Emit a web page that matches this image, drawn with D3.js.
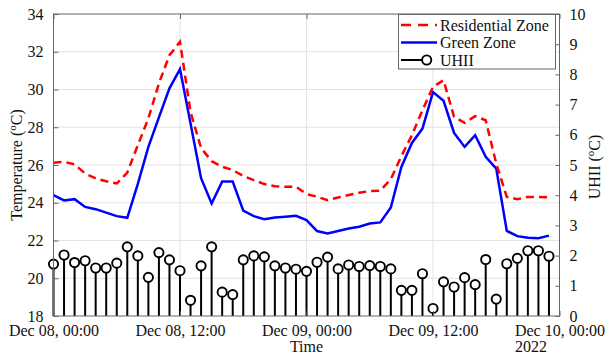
<!DOCTYPE html>
<html>
<head>
<meta charset="utf-8">
<script src="https://cdn.jsdelivr.net/npm/d3@7"></script>
<style>
  body { margin: 0; background: #fff; }
  text { font-family: "Liberation Serif", "Times New Roman", serif; fill: #111; }
</style>
</head>
<body>
<div id="chart"></div>
<script>
/* hourly readings, Dec 08 00:00 to Dec 09 23:00 */
var startTime = new Date(2022, 11, 8, 0, 0);
var hours = d3.range(48);

var residential = [26.12, 26.17, 26.03, 25.55, 25.29, 25.14, 25.02, 25.6, 27.05, 28.47, 30.32, 31.82,
                   32.53, 28.8, 26.9, 26.2, 25.91, 25.73, 25.42, 25.20, 24.99, 24.88, 24.85, 24.85,
                   24.46, 24.32, 24.14, 24.28, 24.41, 24.53, 24.62, 24.64, 25.25, 26.47, 27.58, 28.9,
                   30.14, 30.49, 28.55, 28.23, 28.59, 28.37, 26.08, 24.31, 24.19, 24.31, 24.31, 24.28];

var green = [24.40, 24.12, 24.19, 23.78, 23.66, 23.48, 23.29, 23.20, 25.0, 26.96, 28.52, 30.06,
             31.08, 28.2, 25.3, 23.96, 25.12, 25.12, 23.58, 23.29, 23.13, 23.22, 23.26, 23.31,
             23.08, 22.50, 22.37, 22.50, 22.64, 22.73, 22.90, 22.96, 23.75, 25.90, 27.17, 27.93,
             29.86, 29.40, 27.70, 26.96, 27.58, 26.43, 25.81, 22.51, 22.23, 22.14, 22.12, 22.26];

var uhii = [1.72, 2.02, 1.77, 1.83, 1.59, 1.59, 1.75, 2.29, 1.99, 1.28, 2.10, 1.86,
            1.50, 0.52, 1.66, 2.29, 0.79, 0.71, 1.86, 1.99, 1.96, 1.66, 1.59, 1.55,
            1.48, 1.78, 1.95, 1.56, 1.69, 1.64, 1.67, 1.64, 1.56, 0.85, 0.85, 1.40,
            0.25, 1.13, 0.96, 1.27, 1.04, 1.87, 0.56, 1.73, 1.91, 2.16, 2.16, 1.98];

var tempTicks = [18, 20, 22, 24, 26, 28, 30, 32, 34];
var uhiiTicks = [0, 1, 2, 3, 4, 5, 6, 7, 8, 9, 10];
var timeTicks = [new Date(2022, 11, 8, 0), new Date(2022, 11, 8, 12), new Date(2022, 11, 9, 0),
                 new Date(2022, 11, 9, 12), new Date(2022, 11, 10, 0)];
var seriesNames = ["Residential Zone", "Green Zone", "UHII"];

var data = hours.map(function(h, i) {
	return { t: d3.timeHour.offset(startTime, h), res: residential[i], green: green[i], uhii: uhii[i] };
});

var width = 608,
    height = 356,
    margin = {top: 14, right: 48.5, bottom: 40, left: 53.5},
    innerW = width - margin.left - margin.right,
    innerH = height - margin.top - margin.bottom;

var svg = d3.select("#chart").append("svg")
            .attr("width", width)
            .attr("height", height);

var g = svg.append("g")
           .attr("transform", "translate(" + margin.left + "," + margin.top + ")");

var x = d3.scaleTime().domain([timeTicks[0], timeTicks[4]]).range([0, innerW]),
    yT = d3.scaleLinear().domain([18, 34]).range([innerH, 0]),
    yU = d3.scaleLinear().domain([0, 10]).range([innerH, 0]);

/* grid */
g.append("g").selectAll("line")
    .data(tempTicks.slice(1, -1))
    .enter().append("line")
        .attr("x1", 0).attr("x2", innerW)
        .attr("y1", function(d) { return yT(d); })
        .attr("y2", function(d) { return yT(d); })
        .attr("stroke", "#e3e3e3").attr("stroke-width", 1);

g.append("g").selectAll("line")
    .data(timeTicks.slice(1, -1))
    .enter().append("line")
        .attr("y1", 0).attr("y2", innerH)
        .attr("x1", function(d) { return x(d); })
        .attr("x2", function(d) { return x(d); })
        .attr("stroke", "#e3e3e3").attr("stroke-width", 1);

/* stems */
var stems = g.append("g");
stems.selectAll("line")
    .data(data)
    .enter().append("line")
        .attr("x1", function(d) { return x(d.t); })
        .attr("x2", function(d) { return x(d.t); })
        .attr("y1", yU(0))
        .attr("y2", function(d) { return yU(d.uhii); })
        .attr("stroke", "#000").attr("stroke-width", 2);

stems.selectAll("circle")
    .data(data)
    .enter().append("circle")
        .attr("cx", function(d) { return x(d.t); })
        .attr("cy", function(d) { return yU(d.uhii); })
        .attr("r", 4.6)
        .attr("fill", "#fff")
        .attr("stroke", "#000").attr("stroke-width", 1.9);

/* temperature lines */
var lineRes = d3.line().x(function(d) { return x(d.t); }).y(function(d) { return yT(d.res); });
var lineGreen = d3.line().x(function(d) { return x(d.t); }).y(function(d) { return yT(d.green); });

g.append("path").datum(data)
    .attr("d", lineGreen)
    .attr("fill", "none").attr("stroke", "#0000ff").attr("stroke-width", 2.5);

g.append("path").datum(data)
    .attr("d", lineRes)
    .attr("fill", "none").attr("stroke", "#ff0000").attr("stroke-width", 2.5)
    .attr("stroke-dasharray", "8,5");

/* box + axes */
g.append("rect")
    .attr("width", innerW).attr("height", innerH)
    .attr("fill", "none").attr("stroke", "#666").attr("stroke-width", 1);

var leftAxis = d3.axisLeft(yT).tickValues(tempTicks).tickSizeInner(-5).tickSizeOuter(0).tickPadding(10);
var rightAxis = d3.axisRight(yU).tickValues(uhiiTicks).tickSizeInner(-4).tickSizeOuter(0).tickPadding(10);
var bottomAxis = d3.axisBottom(x).tickValues(timeTicks).tickSizeInner(-5).tickSizeOuter(0)
                   .tickPadding(9).tickFormat(d3.timeFormat("%b %d, %H:%M"));
var topAxis = d3.axisTop(x).tickValues(timeTicks).tickSizeInner(-5).tickSizeOuter(0).tickFormat("");

function styleAxis(sel) {
	sel.select(".domain").remove();
	sel.selectAll("line").attr("stroke", "#666");
	sel.selectAll("text").attr("font-size", 16).attr("font-family", "Liberation Serif").attr("fill", "#111");
}

g.append("g").call(leftAxis).call(styleAxis);
g.append("g").attr("transform", "translate(" + innerW + ",0)").call(rightAxis).call(styleAxis);
g.append("g").attr("transform", "translate(0," + innerH + ")").call(bottomAxis).call(styleAxis);
g.append("g").call(topAxis).call(styleAxis);

/* axis labels */
svg.append("text")
    .attr("x", margin.left + innerW / 2).attr("y", 352)
    .attr("text-anchor", "middle").attr("font-size", 16)
    .text("Time");

svg.append("text")
    .attr("x", 531).attr("y", 352)
    .attr("text-anchor", "middle").attr("font-size", 16)
    .text("2022");

var yl = svg.append("text")
    .attr("transform", "translate(22," + (margin.top + innerH / 2) + ") rotate(-90)")
    .attr("text-anchor", "middle").attr("font-size", 16);
yl.append("tspan").text("Temperature (");
yl.append("tspan").attr("font-size", 11).attr("dy", -6).text("o");
yl.append("tspan").attr("dy", 6).text("C)");

var yr = svg.append("text")
    .attr("transform", "translate(600," + (margin.top + innerH / 2 + 2) + ") rotate(-90)")
    .attr("text-anchor", "middle").attr("font-size", 16);
yr.append("tspan").text("UHII (");
yr.append("tspan").attr("font-size", 11).attr("dy", -6).text("o");
yr.append("tspan").attr("dy", 6).text("C)");

/* legend */
var legend = svg.append("g").attr("class", "legend");
legend.append("rect")
    .attr("x", 398.5).attr("y", 14.5).attr("width", 157).attr("height", 54.5)
    .attr("fill", "#fff").attr("stroke", "#666").attr("stroke-width", 1);

var rows = legend.selectAll("g.row")
    .data(seriesNames)
    .enter().append("g")
        .attr("class", "row")
        .attr("transform", function(d, i) { return "translate(0," + (25 + i * 17.5) + ")"; });

rows.append("text")
    .attr("x", 440).attr("y", 5.5)
    .attr("font-size", 16)
    .text(function(d) { return d; });

rows.filter(function(d, i) { return i == 0; }).append("line")
    .attr("x1", 401).attr("x2", 437).attr("y1", 0).attr("y2", 0)
    .attr("stroke", "#ff0000").attr("stroke-width", 2.5).attr("stroke-dasharray", "10,7");
rows.filter(function(d, i) { return i == 1; }).append("line")
    .attr("x1", 401).attr("x2", 437).attr("y1", 0).attr("y2", 0)
    .attr("stroke", "#0000ff").attr("stroke-width", 2.5);
var uRow = rows.filter(function(d, i) { return i == 2; });
uRow.append("line")
    .attr("x1", 401).attr("x2", 422).attr("y1", 0).attr("y2", 0)
    .attr("stroke", "#000").attr("stroke-width", 2);
uRow.append("circle")
    .attr("cx", 426.7).attr("cy", 0).attr("r", 4.6)
    .attr("fill", "#fff").attr("stroke", "#000").attr("stroke-width", 1.9);
</script>
</body>
</html>
